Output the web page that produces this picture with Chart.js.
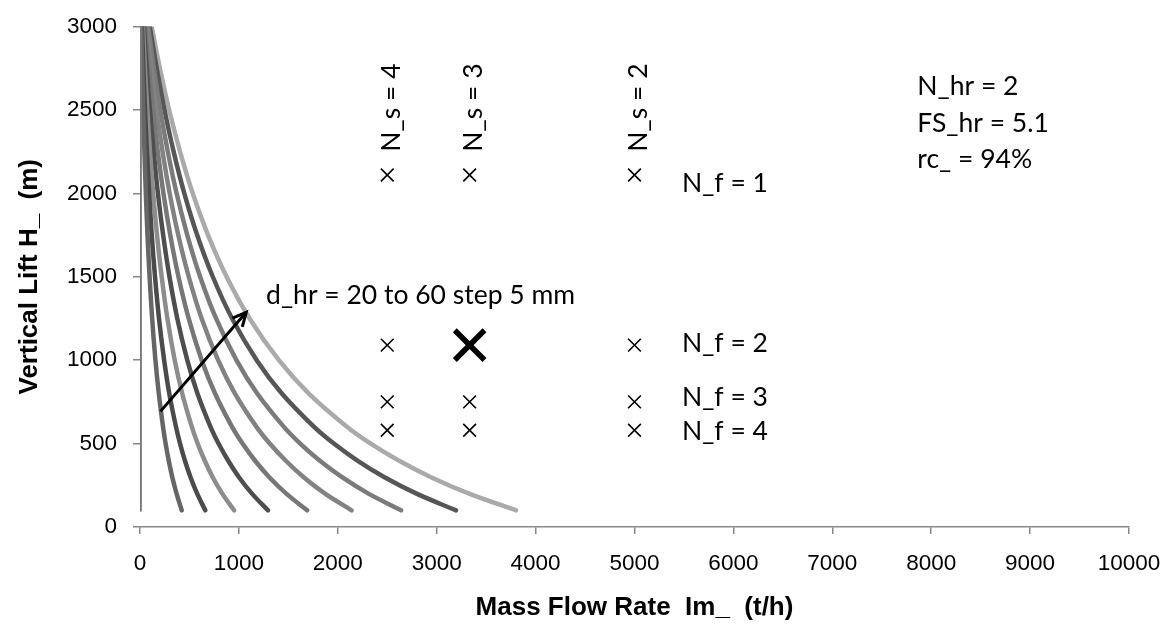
<!DOCTYPE html>
<html>
<head>
<meta charset="utf-8">
<script src="https://cdn.jsdelivr.net/npm/chart.js@4/dist/chart.umd.min.js"></script>
<style>
  body { margin: 0; background: #fff; }
  #wrap { width: 1169px; height: 635px; }
</style>
</head>
<body>
<div id="wrap"><canvas id="myChart" width="1169" height="635"></canvas></div>
<script>
// lift heights (m) where each rope curve is read
const liftH = [100, 200, 300, 400, 500, 600, 800, 1000, 1250, 1500, 1750, 2000, 2250, 2500, 2750, 3000];

// mass flow rate (t/h) per hoist rope diameter
const flowLimit = [4, 4, 4, 4, 4, 4, 4, 4, 4, 4, 4, 4, 4, 4, 4, 4];
const flowD20 = [422, 370, 326, 290, 259, 233, 190, 156, 123, 97, 76, 59, 45, 33, 22, 13];
const flowD25 = [660, 578, 510, 453, 405, 364, 296, 244, 192, 152, 119, 93, 70, 51, 35, 20];
const flowD30 = [951, 832, 734, 653, 583, 524, 427, 351, 277, 219, 172, 133, 101, 74, 50, 30];
const flowD35 = [1294, 1132, 999, 889, 794, 713, 581, 478, 377, 298, 234, 181, 138, 100, 68, 40];
const flowD40 = [1690, 1479, 1305, 1160, 1037, 931, 759, 624, 492, 389, 306, 237, 180, 131, 89, 52];
const flowD45 = [2139, 1871, 1652, 1469, 1312, 1178, 960, 790, 623, 493, 387, 300, 228, 166, 113, 66];
const flowD50 = [2640, 2310, 2039, 1813, 1620, 1455, 1185, 975, 769, 608, 478, 370, 281, 205, 140, 82];
const flowD55 = [3195, 2796, 2468, 2194, 1960, 1760, 1434, 1180, 931, 736, 578, 448, 340, 248, 169, 99];
const flowD60 = [3802, 3327, 2937, 2611, 2333, 2095, 1707, 1404, 1108, 876, 688, 533, 405, 295, 201, 118];

const curveNames = ["limit", "d_hr 20", "d_hr 25", "d_hr 30", "d_hr 35", "d_hr 40", "d_hr 45", "d_hr 50", "d_hr 55", "d_hr 60"];
const curveFlows = [flowLimit, flowD20, flowD25, flowD30, flowD35, flowD40, flowD45, flowD50, flowD55, flowD60];
const curveColors = ["#7a7a7a", "#666666", "#4b4b4b", "#8d8d8d", "#4e4e4e", "#777777", "#828282", "#7b7b7b", "#565656", "#aaaaaa"];

// design points: skips (N_s) x shafts (N_f)
const skipFlows = [2500, 3333, 5000];
const skipLabels = ["N_s = 4", "N_s = 3", "N_s = 2"];
const shaftLifts = [2110, 1090, 750, 580];
const shaftLabels = ["N_f = 1", "N_f = 2", "N_f = 3", "N_f = 4"];
const chosenFlow = [3333];
const chosenLift = [1090];

const noteLines = ["N_hr = 2", "FS_hr = 5.1", "rc_ = 94%"];
const arrowLabel = "d_hr = 20 to 60 step 5 mm";

const xTicks = [0, 1000, 2000, 3000, 4000, 5000, 6000, 7000, 8000, 9000, 10000];
const yTicks = [0, 500, 1000, 1500, 2000, 2500, 3000];

const textFont = "26.5px Lato";

// build datasets
const toPoints = (flows) => flows.map((v, i) => ({x: v, y: liftH[i]}));

const datasets = curveFlows.map((flows, i) => ({
    label: curveNames[i],
    data: toPoints(flows),
    showLine: true,
    borderColor: curveColors[i],
    borderWidth: i === 0 ? 3 : 4.5,
    borderCapStyle: "round",
    tension: 0.35,
    pointRadius: 0,
}));

const gridPoints = [];
skipFlows.forEach((x) => shaftLifts.forEach((y) => gridPoints.push({x, y})));

datasets.push({
    label: "designs",
    data: gridPoints,
    pointStyle: "crossRot",
    pointRadius: 9,
    pointBorderWidth: 1.6,
    borderColor: "#000",
    backgroundColor: "#000",
});
datasets.push({
    label: "chosen",
    data: chosenFlow.map((x, i) => ({x, y: chosenLift[i]})),
    pointStyle: "crossRot",
    pointRadius: 21,
    pointBorderWidth: 5.5,
    borderColor: "#000",
    backgroundColor: "#000",
});

// texts and arrow drawn in data units
const notesPlugin = {
    id: "notes",
    afterDatasetsDraw(chart) {
        const {ctx, scales: {x, y}} = chart;
        ctx.save();
        ctx.fillStyle = "#000";
        ctx.font = textFont;

        // N_s labels, rotated, above the first row of crosses
        skipFlows.forEach((f, i) => {
            ctx.save();
            ctx.translate(x.getPixelForValue(f) + 4, y.getPixelForValue(2250));
            ctx.rotate(-Math.PI / 2);
            ctx.textAlign = "left";
            ctx.textBaseline = "middle";
            ctx.fillText(skipLabels[i], 0, 0);
            ctx.restore();
        });

        // N_f labels
        ctx.textAlign = "left";
        ctx.textBaseline = "middle";
        const shaftTextLift = [2060, 1100, 775, 572];
        shaftLabels.forEach((t, i) => {
            ctx.fillText(t, x.getPixelForValue(5480), y.getPixelForValue(shaftTextLift[i]));
        });

        // parameter notes, top right
        noteLines.forEach((t, i) => {
            ctx.fillText(t, x.getPixelForValue(7860), y.getPixelForValue(2640) + i * 36.5);
        });

        // arrow across the rope curves
        const x0 = x.getPixelForValue(207), y0 = y.getPixelForValue(693);
        const x1 = x.getPixelForValue(1074), y1 = y.getPixelForValue(1287);
        ctx.strokeStyle = "#000";
        ctx.lineWidth = 3;
        ctx.lineCap = "butt";
        ctx.beginPath();
        ctx.moveTo(x0, y0);
        ctx.lineTo(x1, y1);
        ctx.stroke();
        const ang = Math.atan2(y1 - y0, x1 - x0);
        const head = 15;
        ctx.beginPath();
        ctx.moveTo(x1 - head * Math.cos(ang - 0.45), y1 - head * Math.sin(ang - 0.45));
        ctx.lineTo(x1, y1);
        ctx.lineTo(x1 - head * Math.cos(ang + 0.45), y1 - head * Math.sin(ang + 0.45));
        ctx.stroke();

        ctx.fillText(arrowLabel, x.getPixelForValue(1275), y.getPixelForValue(1385));
        ctx.restore();
    },
};

const tickFont = {family: "Liberation Sans", size: 22.5};
const titleFont = {family: "Liberation Sans", size: 26, weight: "bold"};
const plainNumber = (v) => String(v);

const config = {
    type: "scatter",
    data: {datasets},
    options: {
        responsive: false,
        animation: false,
        devicePixelRatio: 1,
        layout: {padding: {top: 25, right: 40, left: 0, bottom: 0}},
        plugins: {legend: {display: false}, tooltip: {enabled: false}},
        scales: {
            x: {
                type: "linear",
                min: 0,
                max: 10000,
                afterBuildTicks: (s) => { s.ticks = xTicks.map((v) => ({value: v})); },
                afterFit: (s) => { s.height = 108; s.paddingLeft = 0; s.paddingRight = 0; },
                grid: {drawOnChartArea: false, drawTicks: true, tickLength: 7, color: "#878787", lineWidth: 1.5},
                border: {display: true, color: "#878787", width: 1.5},
                ticks: {font: tickFont, color: "#000", padding: 16, maxRotation: 0, callback: plainNumber},
                title: {display: true, text: "Mass Flow Rate  Im_  (t/h)", font: titleFont, color: "#000", padding: {top: 0, bottom: 12}},
            },
            y: {
                type: "linear",
                min: 0,
                max: 3000,
                afterBuildTicks: (s) => { s.ticks = yTicks.map((v) => ({value: v})); },
                afterFit: (s) => { s.width = 140; s.paddingTop = 0; s.paddingBottom = 0; },
                grid: {drawOnChartArea: false, drawTicks: true, tickLength: 7, color: "#878787", lineWidth: 1.5},
                border: {display: false},
                ticks: {font: tickFont, color: "#000", padding: 16, callback: plainNumber},
                title: {display: true, text: "Vertical Lift H_  (m)", font: titleFont, color: "#000", padding: {top: 14, bottom: 0}},
            },
        },
    },
    plugins: [notesPlugin],
};

new Chart(document.getElementById("myChart"), config);
</script>
</body>
</html>
